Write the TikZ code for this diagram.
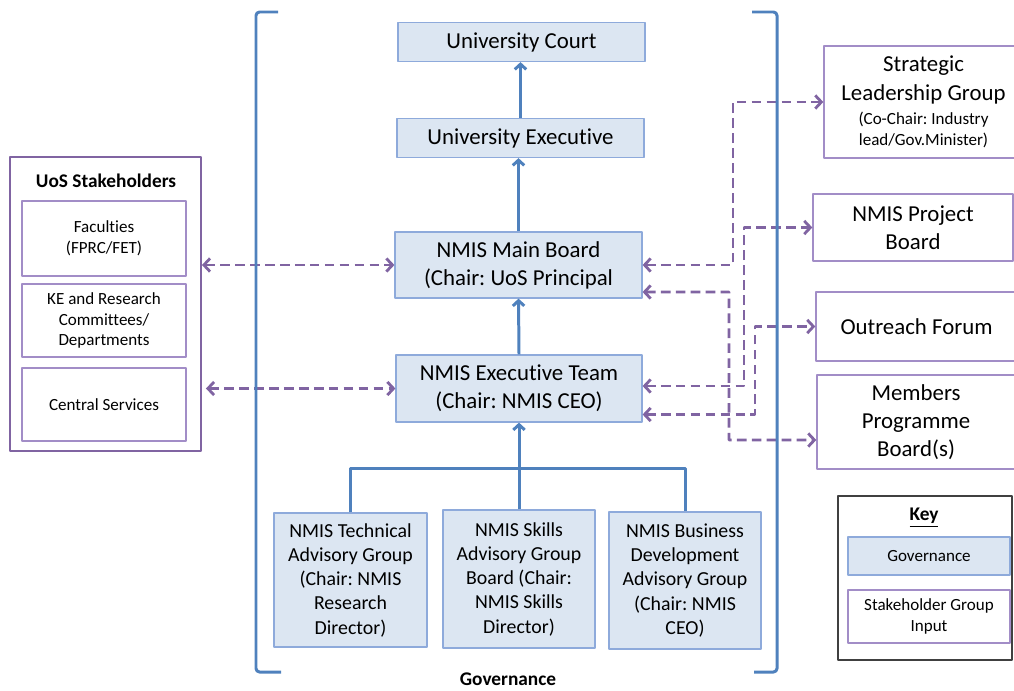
\documentclass[tikz,border=0pt]{standalone}
\usepackage{fontspec}
\setmainfont{Carlito}[Ligatures=NoCommon]
\usetikzlibrary{arrows.meta}
\definecolor{govfill}{HTML}{DCE6F2}
\definecolor{govline}{HTML}{8EAADB}
\definecolor{govblue}{HTML}{4F81BD}
\definecolor{stkline}{HTML}{8064A2}
\definecolor{stklight}{HTML}{A28DC7}
\definecolor{keyline}{HTML}{404040}
\frenchspacing
\tikzset{
	txtbig/.style={font=\fontsize{13}{16}\selectfont},
	txtadv/.style={font=\fontsize{11.3}{13.8}\selectfont},
	txtsmall/.style={font=\fontsize{9.7}{11.9}\selectfont},
	txtbold/.style={font=\fontsize{11}{13}\selectfont\bfseries},
	gov/.style={draw=govline,fill=govfill,line width=0.7pt,align=center,inner sep=0pt},
	stk/.style={draw=stklight,line width=0.8pt,align=center,inner sep=0pt},
	govarrow/.style={draw=govblue,line width=1.7pt,->},
	link/.style={draw=stkline,line width=1.6pt,dash pattern=on 5.5pt off 3pt,
		{Straight Barb[length=3.5pt,width=7.5pt]}-{Straight Barb[length=3.5pt,width=7.5pt]}},
	bracket/.style={draw=govblue,line width=1.7pt,rounded corners=2pt}
}
\begin{document}
\begin{tikzpicture}[x=0.02cm,y=-0.02cm,>={Straight Barb[length=3pt,width=6.5pt]},line join=round]
	\useasboundingbox (0,0) rectangle (1014,690);
	% governance column
	\node[gov,txtbig,minimum width=4.94cm,minimum height=0.78cm] (court) at (521.5,42) {University Court};
	\node[gov,txtbig,minimum width=4.94cm,minimum height=0.78cm] (exec) at (520.5,138) {University Executive};
	\node[gov,txtbig,minimum width=4.94cm,minimum height=1.32cm] (board) at (518.5,265) {NMIS Main Board\\(Chair: UoS Principal};
	\node[gov,txtbig,minimum width=4.92cm,minimum height=1.34cm] (team) at (519,388.5) {NMIS Executive Team\\(Chair: NMIS CEO)};
	\node[gov,txtadv,minimum width=3.06cm,minimum height=2.68cm] (tech) at (350.5,580) {NMIS Technical\\Advisory Group\\(Chair: NMIS\\Research\\Director)};
	\node[gov,txtadv,minimum width=3.04cm,minimum height=2.76cm] (skills) at (519,579) {NMIS Skills\\Advisory Group\\Board (Chair:\\NMIS Skills\\Director)};
	\node[gov,txtadv,minimum width=3.04cm,minimum height=2.74cm] (bus) at (685,580.5) {NMIS Business\\Development\\Advisory Group\\(Chair: NMIS\\CEO)};
	\node[txtbold,inner sep=0pt] (govlabel) at (508,679.5) {Governance};
	% UoS stakeholders
	\node[draw=stkline,line width=1.1pt,minimum width=3.82cm,minimum height=5.88cm] (uos) at (105.5,304) {};
	\node[txtbold] (uostitle) at (106,181) {UoS Stakeholders};
	\node[stk,txtsmall,minimum width=3.28cm,minimum height=1.5cm] (fac) at (104,238.5) {Faculties\\(FPRC/FET)};
	\node[stk,txtsmall,minimum width=3.28cm,minimum height=1.46cm] (ke) at (104,320.5) {KE and Research\\Committees/\\Departments};
	\node[stk,txtsmall,minimum width=3.28cm,minimum height=1.46cm] (cs) at (104,404.5) {Central Services};
	% stakeholder groups on the right
	\node[stk,minimum width=3.98cm,minimum height=2.24cm] (slg) at (923.5,102) {};
	\node[txtbig,align=center] (slgname) at (923.5,80) {Strategic\\Leadership Group};
	\node[txtsmall,align=center] (slgchair) at (923.5,130) {(Co-Chair: Industry\\lead/Gov.Minister)};
	\node[stk,txtbig,minimum width=4cm,minimum height=1.34cm] (pb) at (913,227.5) {NMIS Project\\Board};
	\node[stk,txtbig,minimum width=4.02cm,minimum height=1.38cm] (of) at (916.5,326.5) {Outreach Forum};
	\node[stk,txtbig,minimum width=3.96cm,minimum height=1.88cm] (mpb) at (916,422) {Members\\Programme\\Board(s)};
	% key
	\node[draw=keyline,line width=0.8pt,minimum width=3.48cm,minimum height=3.28cm] (key) at (925,578) {};
	\node[txtbold] (keytitle) at (924,518) {\underline{Key}};
	\node[gov,txtsmall,minimum width=3.24cm,minimum height=0.76cm] (kgov) at (929,556) {Governance};
	\node[stk,txtsmall,minimum width=3.24cm,minimum height=1.06cm] (kstk) at (929,616.5) {Stakeholder Group\\Input};
	% reporting lines
	\draw[govarrow] (exec.north) -- (exec.north |- court.south);
	\draw[govarrow] (board.north) -- (board.north |- exec.south);
	\draw[govarrow] (team.north) -- (board.south);
	\coordinate (fork) at (519,468);
	\draw[draw=govblue,line width=1.7pt] (tech.north) |- (fork) -| (bus.north);
	\draw[govarrow] (skills.north) -- (team.south);
	% stakeholder links
	\draw[link] (uos.east |- board.west) -- (board.west);
	\draw[link,shorten <=2.3pt] (uos.east |- team.west) -- (team.west);
	\draw[link] (board.east) -| (733,102) -- (slg.west);
	\draw[link] ([yshift=-0.54cm]board.east) -| (729,440) -- ([yshift=-0.36cm]mpb.west);
	\draw[link] ([yshift=0.05cm]team.east) -| (744,227.5) -- (pb.west);
	\draw[link] ([yshift=-0.52cm]team.east) -| (755,326.5) -- (of.west);
	% brackets
	\draw[bracket] (278,12) -- (256,12) -- (256,672) -- (281,672);
	\draw[bracket] (752,12) -- (777,12) -- (777,672) -- (754,672);
\end{tikzpicture}
\end{document}
